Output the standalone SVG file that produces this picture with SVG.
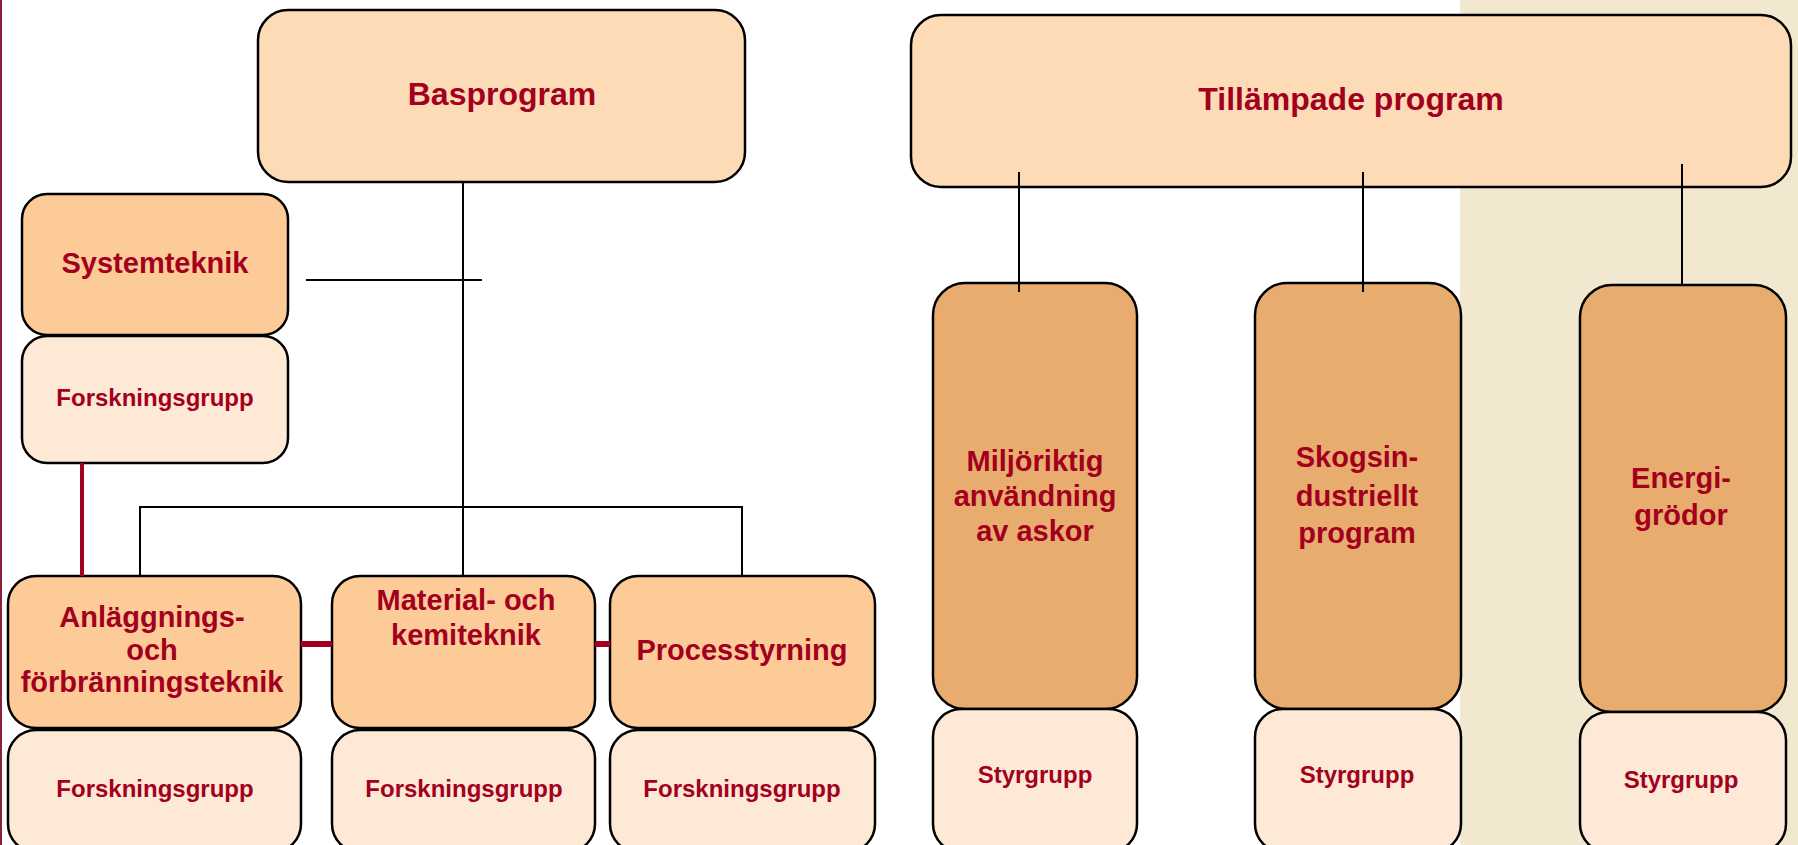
<svg xmlns="http://www.w3.org/2000/svg" width="1798" height="845" viewBox="0 0 1798 845">
<style>
.box{stroke:#000;stroke-width:2.5}
.top{fill:#FDDBB6}
.mid{fill:#FDCB98}
.low{fill:#FDE9D5}
.tall{fill:#E8AD6E}
text{font-family:"Liberation Sans",Arial,sans-serif;font-weight:bold;fill:#A3001F;text-anchor:middle}
.t1{font-size:32px}
.t2{font-size:29px}
.t3{font-size:24px}
.conn{stroke:#000;stroke-width:2;fill:none}
.red{stroke:#A3001F;fill:none}
</style>
<rect x="0" y="0" width="1798" height="845" fill="#FFFFFF"/>
<rect x="1460" y="0" width="338" height="845" fill="#F2E8CF"/>
<line x1="1" y1="0" x2="1" y2="845" stroke="#8B2040" stroke-width="2"/>

<g id="basprogram">
<rect class="box top" x="258" y="10" width="487" height="172" rx="30"/>
<text class="t1" x="502" y="105">Basprogram</text>
</g>
<g id="systemteknik">
<rect class="box mid" x="22" y="194" width="266" height="141" rx="25"/>
<text class="t2" x="155" y="273">Systemteknik</text>
</g>
<g id="systemteknik-forskningsgrupp">
<rect class="box low" x="22" y="336" width="266" height="127" rx="25"/>
<text class="t3" x="155" y="406">Forskningsgrupp</text>
</g>

<g id="anlaggning">
<rect class="box mid" x="8" y="576" width="293" height="152" rx="28"/>
<text class="t2" x="152" y="627">Anläggnings-</text>
<text class="t2" x="152" y="660">och</text>
<text class="t2" x="152" y="692">förbränningsteknik</text>
</g>
<g id="anlaggning-forskningsgrupp">
<rect class="box low" x="8" y="730" width="293" height="122" rx="28"/>
<text class="t3" x="155" y="797">Forskningsgrupp</text>
</g>

<g id="material">
<rect class="box mid" x="332" y="576" width="263" height="152" rx="28"/>
<text class="t2" x="466" y="610">Material- och</text>
<text class="t2" x="466" y="645">kemiteknik</text>
</g>
<g id="material-forskningsgrupp">
<rect class="box low" x="332" y="730" width="263" height="122" rx="28"/>
<text class="t3" x="464" y="797">Forskningsgrupp</text>
</g>

<g id="processtyrning">
<rect class="box mid" x="610" y="576" width="265" height="152" rx="28"/>
<text class="t2" x="742" y="660">Processtyrning</text>
</g>
<g id="processtyrning-forskningsgrupp">
<rect class="box low" x="610" y="730" width="265" height="122" rx="28"/>
<text class="t3" x="742" y="797">Forskningsgrupp</text>
</g>

<g id="tillampade">
<rect class="box top" x="911" y="15" width="880" height="172" rx="30"/>
<text class="t1" x="1351" y="110">Tillämpade program</text>
</g>

<g id="miljoriktig">
<rect class="box tall" x="933" y="283" width="204" height="426" rx="32"/>
<text class="t2" x="1035" y="471">Miljöriktig</text>
<text class="t2" x="1035" y="506">användning</text>
<text class="t2" x="1035" y="541">av askor</text>
</g>
<g id="miljoriktig-styrgrupp">
<rect class="box low" x="933" y="709" width="204" height="143" rx="28"/>
<text class="t3" x="1035" y="783">Styrgrupp</text>
</g>

<g id="skogsindustriellt">
<rect class="box tall" x="1255" y="283" width="206" height="426" rx="32"/>
<text class="t2" x="1357" y="467">Skogsin-</text>
<text class="t2" x="1357" y="506">dustriellt</text>
<text class="t2" x="1357" y="543">program</text>
</g>
<g id="skogsindustriellt-styrgrupp">
<rect class="box low" x="1255" y="709" width="206" height="143" rx="28"/>
<text class="t3" x="1357" y="783">Styrgrupp</text>
</g>

<g id="energigrodor">
<rect class="box tall" x="1580" y="285" width="206" height="427" rx="32"/>
<text class="t2" x="1681" y="488">Energi-</text>
<text class="t2" x="1681" y="525">grödor</text>
</g>
<g id="energigrodor-styrgrupp">
<rect class="box low" x="1580" y="712" width="206" height="140" rx="28"/>
<text class="t3" x="1681" y="788">Styrgrupp</text>
</g>

<g id="connectors">
<line class="conn" x1="463" y1="182" x2="463" y2="576"/>
<line class="conn" x1="306" y1="280" x2="482" y2="280"/>
<polyline class="conn" points="140,576 140,507 742,507 742,576"/>
<line class="conn" x1="1019" y1="172" x2="1019" y2="292"/>
<line class="conn" x1="1363" y1="172" x2="1363" y2="292"/>
<line class="conn" x1="1682" y1="164" x2="1682" y2="285"/>
<line class="red" stroke-width="4" x1="82" y1="463" x2="82" y2="576"/>
<line class="red" stroke-width="6" x1="301" y1="644" x2="332" y2="644"/>
<line class="red" stroke-width="6" x1="595" y1="644" x2="610" y2="644"/>
</g>
</svg>
